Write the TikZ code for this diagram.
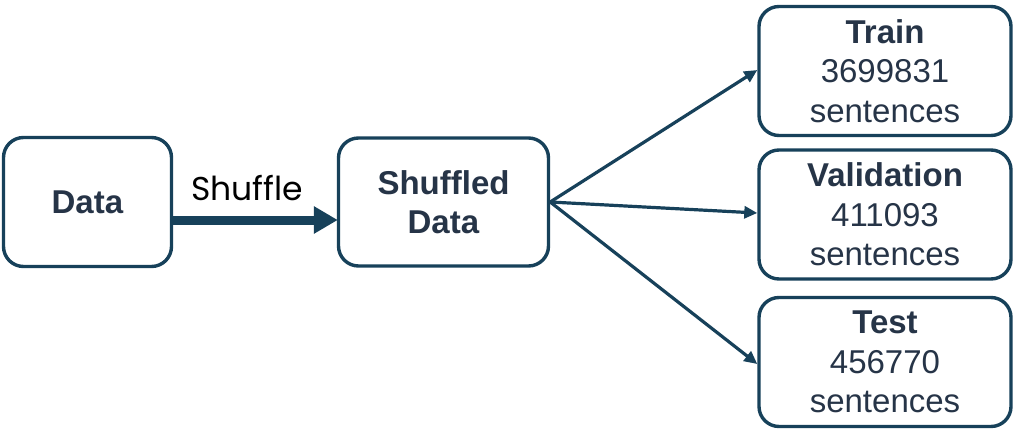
\documentclass[tikz,border=0pt]{standalone}
\usepackage{fontspec}
\setmainfont{Liberation Sans}
\newfontfamily\shufflefont{Poppins}
\usetikzlibrary{arrows.meta}
\definecolor{edgecol}{HTML}{17415A}
\definecolor{txtcol}{HTML}{263447}
\begin{document}
\begin{tikzpicture}[x=1pt,y=-1pt,
  box/.style={draw=edgecol, line width=3.4pt, rounded corners=20pt, fill=white,
    text=txtcol, align=center, inner sep=0pt,
    font=\fontsize{33}{39.5}\selectfont},
  thin/.style={draw=edgecol, line width=3.2pt, -{Triangle[length=13pt,width=12pt]}},
  thick/.style={draw=edgecol, line width=9pt, -{Triangle[length=24pt,width=26pt]}, shorten >=-1pt}
]
\useasboundingbox (0,0) rectangle (1015,442);
\node[box, minimum width=168pt, minimum height=129pt] (data) at (87.5,202) {\textbf{Data}};
\node[box, minimum width=210pt, minimum height=128pt] (sd) at (443.5,202) {\textbf{Shuffled}\\\textbf{Data}};
\node[box, minimum width=252pt, minimum height=129pt] (train) at (885,71) {\textbf{Train}\\3699831\\sentences};
\node[box, minimum width=252pt, minimum height=129pt] (val) at (885,214.5) {\textbf{Validation}\\411093\\sentences};
\node[box, minimum width=252pt, minimum height=129pt] (test) at (885,362) {\textbf{Test}\\456770\\sentences};
\draw[thick] ([yshift=-18pt]data.east) -- node[above=11pt, xshift=-8pt, text=black, font=\shufflefont\fontsize{33}{36}\selectfont] (lbl) {Shuffle} ([yshift=-18pt]sd.west);
\draw[thin] (sd.east) -- ([yshift=1pt]train.west);
\draw[thin] (sd.east) -- ([yshift=1.5pt]val.west);
\draw[thin] (sd.east) -- ([yshift=-2pt]test.west);
\end{tikzpicture}
\end{document}
